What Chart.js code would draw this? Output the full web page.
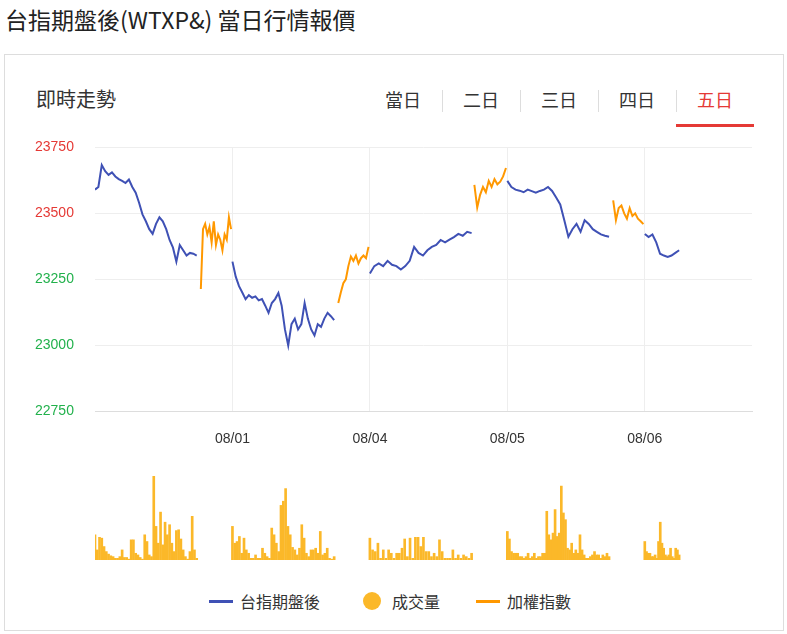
<!DOCTYPE html>
<html><head><meta charset="utf-8">
<script src="https://cdn.jsdelivr.net/npm/chart.js@4/dist/chart.umd.min.js"></script>
<style>
body{margin:0;width:787px;height:634px;font-family:"Noto Sans CJK TC","Noto Sans",sans-serif;background:#fff;position:relative;color:#333}
#title{position:absolute;left:5px;top:2px;font-size:23px;color:#222}
#card{position:absolute;left:4px;top:54px;width:780px;height:577px;border:1px solid #ddd;box-sizing:border-box}
#sub{position:absolute;left:36px;top:84px;font-size:20px;color:#333}
.tab{position:absolute;top:86px;font-size:18px;width:78px;text-align:center;color:#333}
.sep{position:absolute;top:90px;height:22px;border-left:1px solid #ddd}
#ul{position:absolute;left:676px;top:124px;width:78px;height:3px;background:#e53935}
#main{position:absolute;left:5px;top:135px}
#vol{position:absolute;left:5px;top:470px}
#legend{position:absolute;top:589px;left:0;width:787px;font-size:16px;color:#333}
#legend span{position:absolute}
</style></head><body>
<div id="title">台指期盤後(WTXP&amp;) 當日行情報價</div>
<div id="card"></div>
<div id="sub">即時走勢</div>
<div class="tab" style="left:364px">當日</div><div class="sep" style="left:442px"></div>
<div class="tab" style="left:442px">二日</div><div class="sep" style="left:520px"></div>
<div class="tab" style="left:520px">三日</div><div class="sep" style="left:598px"></div>
<div class="tab" style="left:598px">四日</div><div class="sep" style="left:676px"></div>
<div class="tab" style="left:676px;color:#e53935">五日</div>
<div id="ul"></div>
<canvas id="main" width="780" height="333"></canvas>
<canvas id="vol" width="780" height="95"></canvas>
<div id="legend">
  <span style="left:209px;top:11px;width:24px;height:3px;background:#3f51b5"></span>
  <span style="left:240px;top:0">台指期盤後</span>
  <span style="left:363px;top:3px;width:18px;height:18px;border-radius:50%;background:#fbb829"></span>
  <span style="left:392px;top:0">成交量</span>
  <span style="left:476px;top:11px;width:24px;height:3px;background:#ff9800"></span>
  <span style="left:507px;top:0">加權指數</span>
</div>
<script>
const dayLabels = ['08/01', '08/04', '08/05', '08/06'];
const yTicks = [22750, 23000, 23250, 23500, 23750];
const refPrice = 23400;

// night session (blue), per day
const nightStart = [0, 1, 2, 3, 4];
const nightEnd = [0.74, 1.74, 2.74, 3.74, 4.25];
const night = [
  [23590,23600,23683,23660,23646,23655,23640,23630,23623,23615,23628,23600,23578,23540,23496,23470,23440,23422,23460,23485,23470,23440,23399,23370,23317,23380,23360,23340,23350,23347,23340],
  [23317,23260,23224,23200,23175,23190,23180,23185,23170,23175,23150,23123,23160,23175,23198,23150,23060,22999,23080,23101,23060,23080,23160,23100,23060,23037,23080,23070,23101,23123,23110,23095],
  [23272,23300,23310,23300,23320,23305,23300,23287,23300,23320,23373,23350,23340,23360,23373,23380,23399,23390,23400,23410,23422,23415,23430,23425],
  [23623,23600,23590,23586,23580,23590,23584,23578,23585,23590,23600,23585,23560,23534,23474,23411,23440,23460,23430,23474,23460,23440,23430,23420,23415,23411],
  [23422,23410,23420,23390,23347,23340,23335,23340,23350,23360]
];
// index (orange), per day
const idxStart = [0.77, 1.77, 2.76, 3.77];
const idxEnd = [0.99, 1.99, 2.99, 3.99];
const index = [
  [23213,23440,23460,23420,23448,23390,23470,23380,23420,23400,23360,23420,23400,23485,23440],
  [23160,23200,23235,23250,23300,23336,23320,23340,23310,23330,23340,23330,23373],
  [23608,23522,23570,23600,23580,23623,23600,23630,23610,23620,23640,23672],
  [23549,23474,23520,23530,23500,23480,23520,23490,23500,23480,23470,23459]
];
// volume (relative), per night session
const volume = [
  [30,12,27,26,16,10,7,5,4,2,2,4,12,3,3,1,24,24,8,6,3,1,30,22,6,4,100,40,20,57,18,45,30,42,20,10,35,36,25,12,4,1,10,52,12,2],
  [40,20,22,28,8,26,12,8,2,2,6,2,2,14,8,4,2,38,30,20,10,65,70,85,40,30,15,12,6,14,42,26,8,4,12,12,14,8,34,6,8,14,2,1,4],
  [26,12,10,20,2,12,2,12,8,2,8,8,14,25,4,26,2,27,27,16,27,10,10,4,8,4,24,10,2,2,2,12,2,6,2,6,4,2,8],
  [34,25,10,8,8,8,4,4,2,4,8,2,4,8,2,4,4,8,8,58,30,24,32,60,28,32,88,56,48,14,12,20,8,12,8,30,12,6,2,2,4,6,10,6,6,2,6,4,8,4],
  [22,10,8,8,4,4,6,2,22,45,20,14,6,4,6,14,4,2,14,12,6]
];

function spread(vals, a, b) {
  return vals.map((v, i) => ({ x: a + (b - a) * i / (vals.length - 1), y: v }));
}
const datasets = [];
night.forEach((vals, d) => datasets.push({
  data: spread(vals, nightStart[d], nightEnd[d]), borderColor: '#3f51b5'
}));
index.forEach((vals, d) => datasets.push({
  data: spread(vals, idxStart[d], idxEnd[d]), borderColor: '#ff9800'
}));
datasets.forEach(ds => Object.assign(ds, { borderWidth: 2, pointRadius: 0, tension: 0, fill: false }));

const xMax = 4.78;
new Chart(document.getElementById('main'), {
  type: 'line',
  data: { datasets },
  options: {
    responsive: false, animation: false,
    layout: { padding: { top: 11, right: 33, left: 30 } },
    plugins: { legend: { display: false }, tooltip: { enabled: false } },
    scales: {
      x: {
        type: 'linear', min: 0, max: xMax,
        afterBuildTicks: ax => { ax.ticks = [1, 2, 3, 4].map(v => ({ value: v })); },
        ticks: { callback: (v) => dayLabels[v - 1], color: '#333', font: { size: 14 }, padding: 20, maxRotation: 0 },
        grid: { color: '#eee', drawTicks: false },
        border: { color: '#ddd' }
      },
      y: {
        min: 22750, max: 23750,
        afterBuildTicks: ax => { ax.ticks = yTicks.map(v => ({ value: v })); },
        afterFit: ax => { ax.width = 60; },
        ticks: {
          callback: v => String(v),
          color: c => c.tick.value > refPrice ? '#e53935' : '#22b14c',
          font: { size: 14 }, crossAlign: 'far', padding: 4
        },
        grid: { color: '#eee', drawTicks: false },
        border: { display: false }
      }
    }
  }
});

const volData = [];
volume.forEach((vals, d) => volData.push(...spread(vals, nightStart[d], nightEnd[d])));
new Chart(document.getElementById('vol'), {
  type: 'bar',
  data: { datasets: [{ data: volData, backgroundColor: '#fbb829', barThickness: 2 }] },
  options: {
    responsive: false, animation: false,
    layout: { padding: { left: 90, right: 33, top: 6, bottom: 5 } },
    plugins: { legend: { display: false }, tooltip: { enabled: false } },
    scales: {
      x: { type: 'linear', offset: false, min: 0, max: xMax, display: false },
      y: { min: 0, max: 100, display: false }
    }
  }
});
</script>
</body></html>
